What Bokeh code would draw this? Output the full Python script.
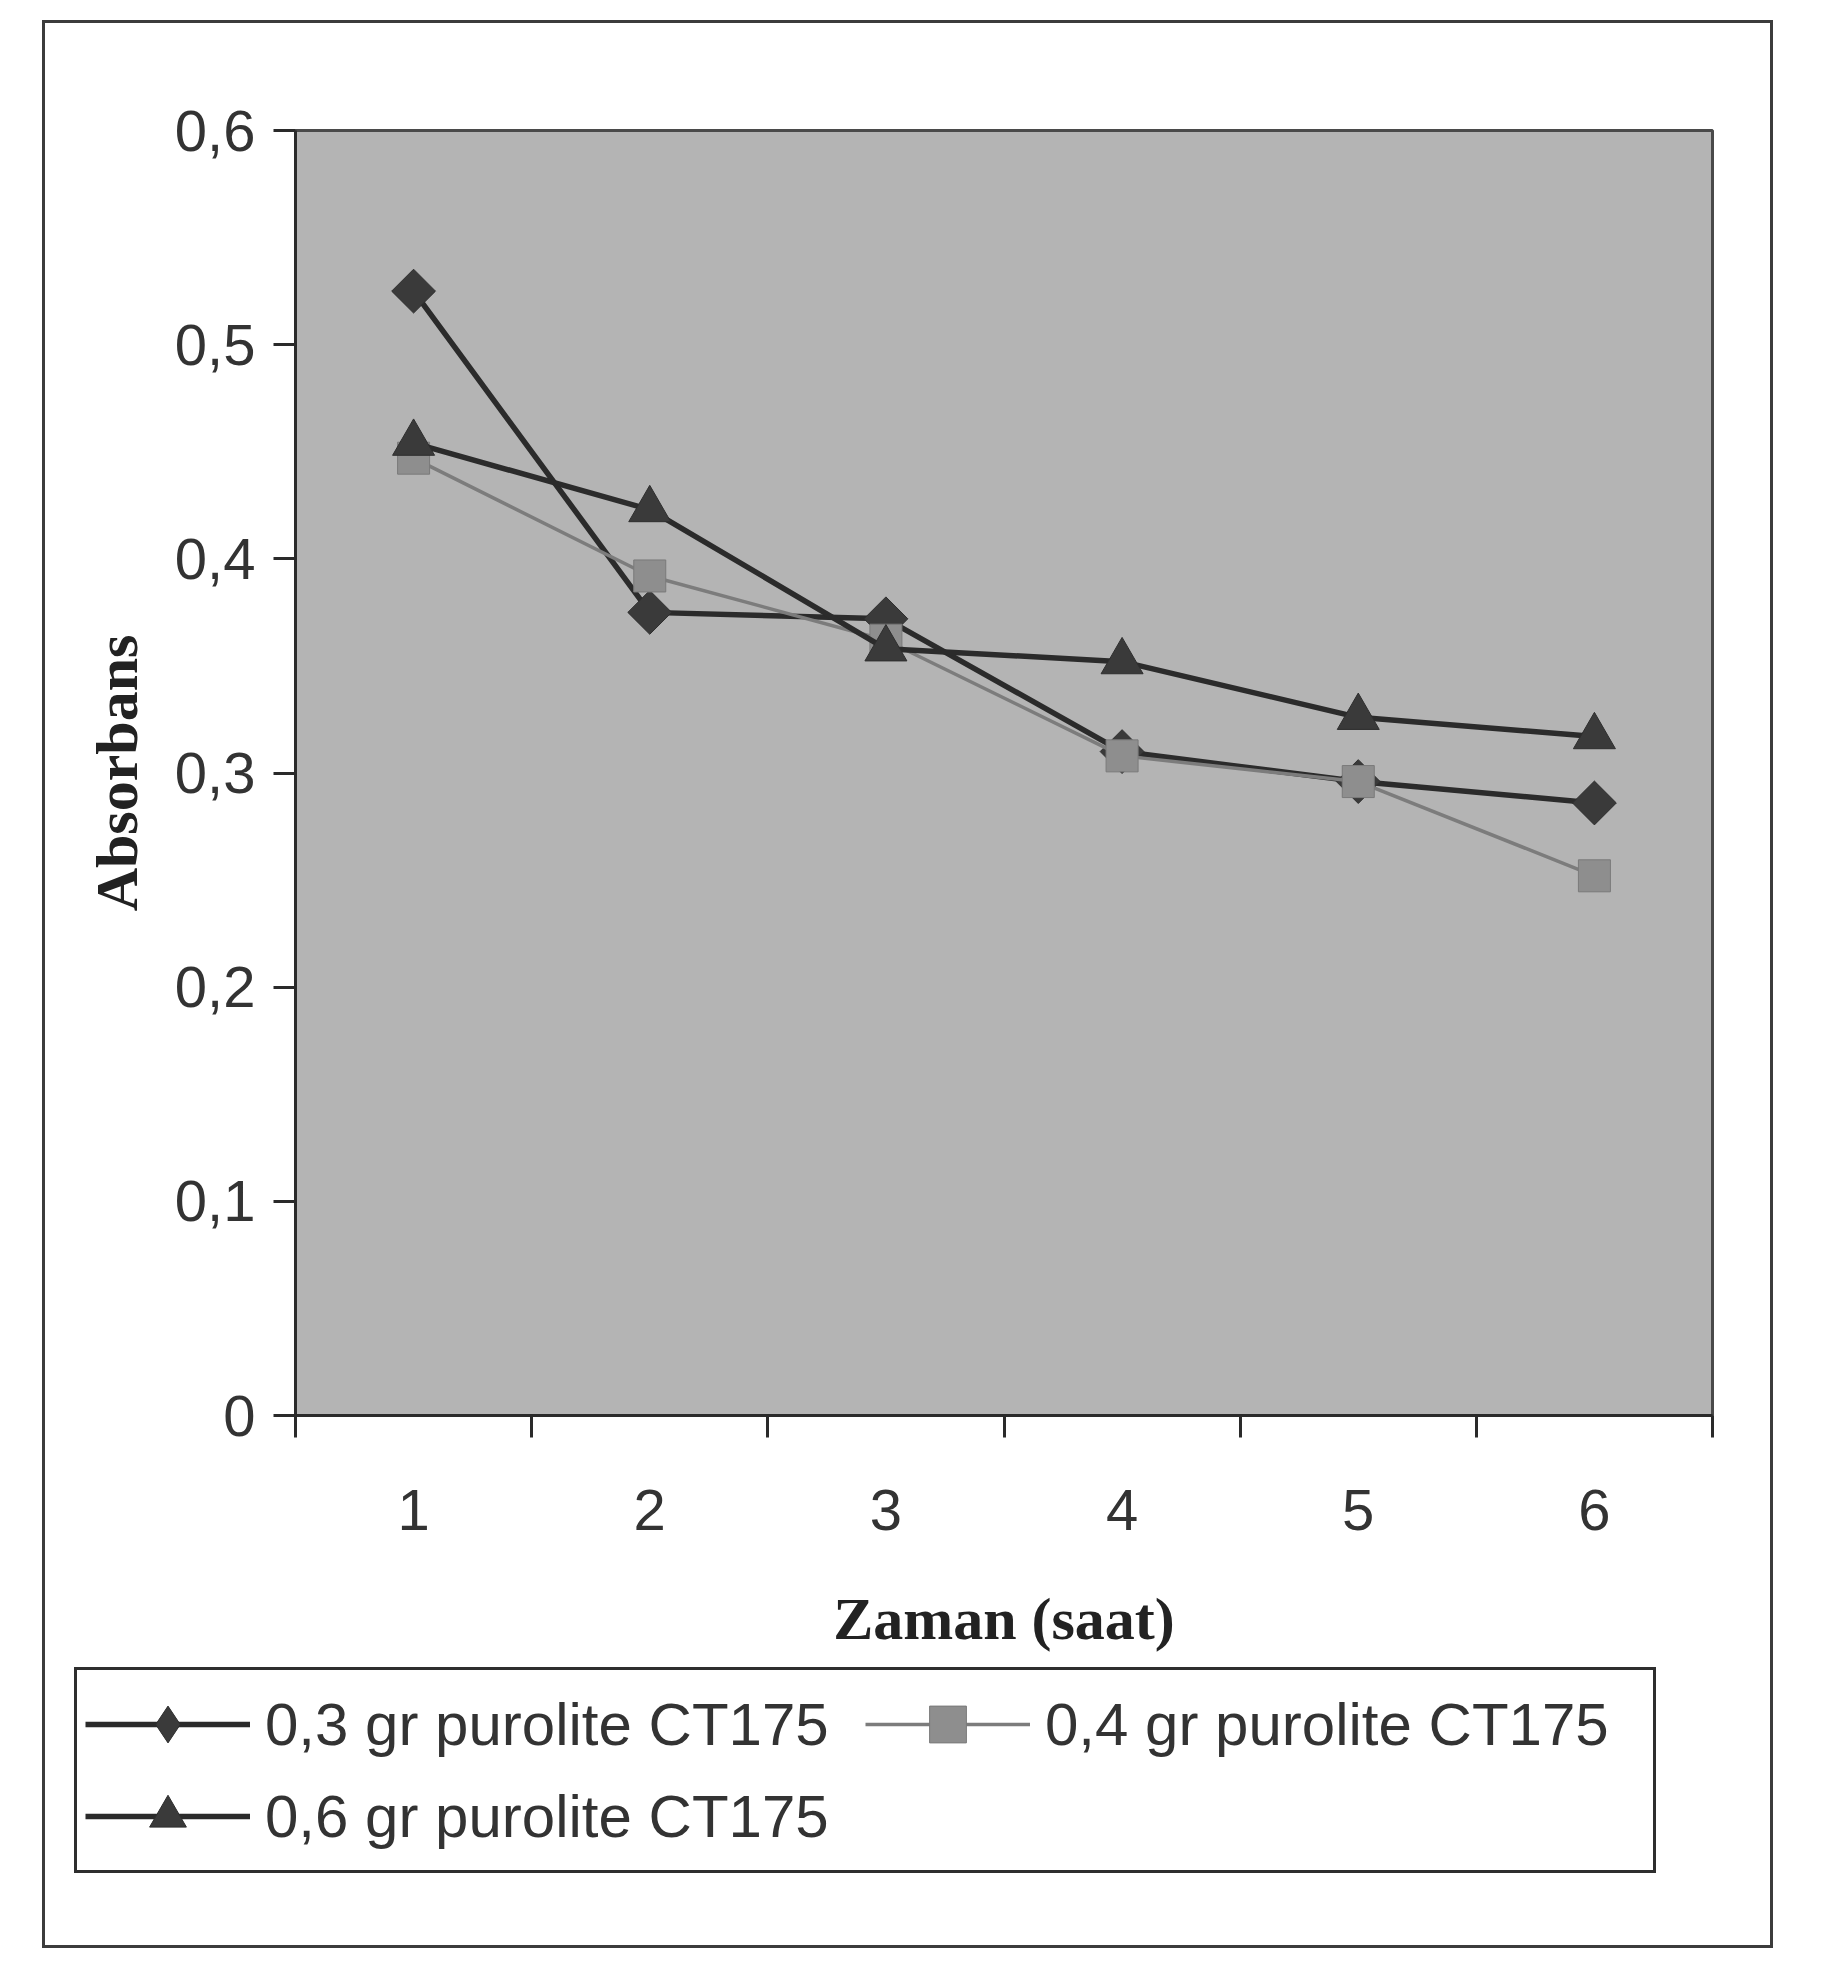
import numpy as np
from bokeh.plotting import figure
from bokeh.layouts import column
from bokeh.models import FixedTicker, CustomJSTickFormatter, Legend, LegendItem, Range1d
from bokeh.embed import file_html
from bokeh.resources import INLINE

# ---- data ----
hours = [1, 2, 3, 4, 5, 6]
s_03 = [0.525, 0.375, 0.372, 0.310, 0.296, 0.286]
s_04 = [0.447, 0.392, 0.362, 0.308, 0.296, 0.252]
s_06 = [0.454, 0.423, 0.358, 0.352, 0.326, 0.317]
series_labels = ["0,3 gr purolite CT175", "0,4 gr purolite CT175", "0,6 gr purolite CT175"]
y_ticks = [0, 0.1, 0.2, 0.3, 0.4, 0.5, 0.6]
x_boundaries = [0.5, 1.5, 2.5, 3.5, 4.5, 5.5, 6.5]
x_title = "Zaman (saat)"
y_title = "Absorbans"

SANS = "Liberation Sans"
SERIF = "Liberation Serif"

series = [s_03, s_04, s_06]
line_styles = [dict(line_color="#2b2b2b", line_width=5.5),
               dict(line_color="#7c7c7c", line_width=3.5),
               dict(line_color="#2b2b2b", line_width=5.5)]
fills = [("#3a3a3a", "#2e2e2e"), ("#8e8e8e", "#7a7a7a"), ("#3a3a3a", "#2e2e2e")]
# markers in the chart (rotated square = diamond) and in the legend (legend ignores angle)
chart_markers = [("square", np.pi / 4, 31), ("square", 0.0, 32), ("triangle", 0.0, 42)]
legend_markers = [("diamond", 0.0, 1), ("square", 0.0, 1), ("triangle", 0.0, 1)]


def draw(fig, markers):
    out = []
    for vals, ls, (fc, lc), (mk, ang, sz) in zip(series, line_styles, fills, markers):
        ln = fig.line(hours, vals, **ls)
        sc = fig.scatter(hours, vals, marker=mk, angle=ang, size=sz,
                         fill_color=fc, line_color=lc, line_width=1)
        out.append([ln, sc])
    return out


# ---------------- chart ----------------
p = figure(width=1725, height=1642,
           x_range=Range1d(0.5, 6.5), y_range=Range1d(0, 0.6),
           output_backend="svg", toolbar_location=None,
           min_border_left=250, min_border_right=58,
           min_border_top=107, min_border_bottom=250)
p.frame_align = False
p.background_fill_color = "#b4b4b4"
p.border_fill_color = "white"
p.outline_line_color = "#4a4a4a"
p.outline_line_width = 3
p.xgrid.visible = False
p.ygrid.visible = False

xa = p.xaxis[0]
xa.ticker = FixedTicker(ticks=hours, minor_ticks=x_boundaries)
xa.major_tick_out = 0
xa.major_tick_in = 0
xa.minor_tick_out = 22
xa.minor_tick_in = 0
xa.minor_tick_line_color = "#2a2a2a"
xa.minor_tick_line_width = 3
xa.axis_line_color = "#2a2a2a"
xa.axis_line_width = 3
xa.major_label_text_font = SANS
xa.major_label_text_font_size = "58px"
xa.major_label_text_color = "#333333"
xa.major_label_standoff = 52
xa.axis_label = x_title
xa.axis_label_text_font = SERIF
xa.axis_label_text_font_style = "bold"
xa.axis_label_text_font_size = "60px"
xa.axis_label_text_color = "#222222"
xa.axis_label_standoff = 53

ya = p.yaxis[0]
ya.ticker = FixedTicker(ticks=y_ticks, minor_ticks=[])
ya.formatter = CustomJSTickFormatter(code="return tick == 0 ? '0' : tick.toFixed(1).replace('.', ',');")
ya.major_tick_out = 22
ya.major_tick_in = 0
ya.major_tick_line_color = "#2a2a2a"
ya.major_tick_line_width = 3
ya.axis_line_color = "#2a2a2a"
ya.axis_line_width = 3
ya.major_label_text_font = SANS
ya.major_label_text_font_size = "58px"
ya.major_label_text_color = "#333333"
ya.major_label_standoff = 18
ya.axis_label = y_title
ya.axis_label_text_font = SERIF
ya.axis_label_text_font_style = "bold"
ya.axis_label_text_font_size = "60px"
ya.axis_label_text_color = "#222222"
ya.axis_label_standoff = 22

draw(p, chart_markers)

# ---------------- legend strip ----------------
# same series drawn off-range (y far above the data) so only the legend shows
pl = figure(width=1725, height=280,
            x_range=Range1d(0.5, 6.5), y_range=Range1d(10, 11),
            output_backend="svg", toolbar_location=None,
            x_axis_type=None, y_axis_type=None,
            min_border_left=0, min_border_right=0, min_border_top=0, min_border_bottom=0)
pl.frame_align = False
pl.background_fill_color = "white"
pl.border_fill_color = "white"
pl.outline_line_color = None
pl.xgrid.visible = False
pl.ygrid.visible = False
rs = draw(pl, legend_markers)

legend = Legend(items=[LegendItem(label=lab, renderers=r) for lab, r in zip(series_labels, rs)],
                location=(29, 72), orientation="horizontal", ncols=2)
legend.label_text_font = SANS
legend.label_text_font_size = "60px"
legend.label_text_color = "#333333"
legend.glyph_width = 165
legend.glyph_height = 92
legend.label_height = 60
legend.label_width = 600
legend.label_standoff = 15
legend.spacing = 0
legend.padding = 8
legend.margin = 0
legend.border_line_color = "#2e2e2e"
legend.border_line_alpha = 1.0
legend.border_line_width = 3
legend.background_fill_color = "white"
legend.background_fill_alpha = 1.0
pl.add_layout(legend, "center")

layout = column(p, pl, spacing=0)
layout.margin = (20, 0, 0, 42)
layout.styles = {"border": "3px solid #3c3c3c", "background-color": "white"}

open("out.html", "w").write(file_html(layout, INLINE))
